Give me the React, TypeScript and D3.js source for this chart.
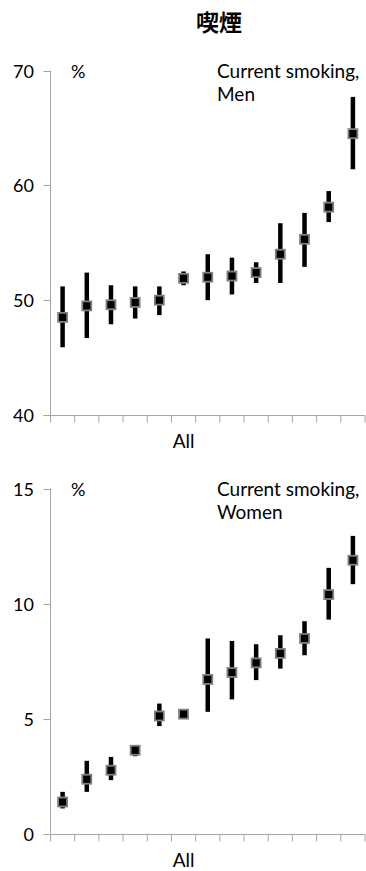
import React, { useEffect, useRef } from 'react';
import * as d3 from 'd3';

// 13 groups, only the "All" group carries a label
const categories = ['', '', '', '', '', 'All', '', '', '', '', '', '', ''];

const menValues = [48.5, 49.5, 49.6, 49.8, 50.0, 51.9, 52.0, 52.1, 52.4, 54.0, 55.3, 58.1, 64.5];
const menLow = [45.9, 46.7, 47.9, 48.4, 48.7, 51.3, 50.0, 50.5, 51.5, 51.5, 52.9, 56.8, 61.4];
const menHigh = [51.2, 52.4, 51.3, 51.2, 51.2, 52.5, 54.0, 53.7, 53.3, 56.7, 57.6, 59.5, 67.7];

const womenValues = [1.37, 2.36, 2.75, 3.62, 5.11, 5.19, 6.7, 7.0, 7.42, 7.83, 8.48, 10.39, 11.88];
const womenLow = [1.09, 1.81, 2.32, 3.36, 4.67, 5.1, 5.29, 5.83, 6.67, 7.17, 7.75, 9.3, 10.84];
const womenHigh = [1.81, 3.16, 3.33, 3.8, 5.65, 5.3, 8.48, 8.37, 8.23, 8.62, 9.23, 11.55, 12.94];

const menTicks = [40, 50, 60, 70];
const womenTicks = [0, 5, 10, 15];

const font = 'Lato, "Open Sans", sans-serif';

function drawPanel(svg, opts) {
  const { top, bottom, domain, ticks, values, low, high, title } = opts;
  const left = 50.5;
  const right = 365;
  const axisColor = '#a6a6a6';

  const x = d3.scaleBand().domain(categories.map((_, i) => String(i))).range([left, right]);
  const y = d3.scaleLinear().domain(domain).range([bottom, top]);

  const g = svg.append('g');

  // y axis
  g.append('line')
    .attr('x1', left).attr('x2', left)
    .attr('y1', y(domain[0])).attr('y2', y(domain[1]))
    .attr('stroke', axisColor).attr('stroke-width', 1);
  ticks.forEach(t => {
    g.append('line')
      .attr('x1', left - 7).attr('x2', left)
      .attr('y1', Math.round(y(t)) + 0.5).attr('y2', Math.round(y(t)) + 0.5)
      .attr('stroke', axisColor);
    g.append('text')
      .attr('x', 34).attr('y', y(t) + 7)
      .attr('text-anchor', 'end')
      .style('font-family', font).style('font-size', '18px').style('fill', '#000')
      .text(t);
  });

  // x axis
  const y0 = Math.round(y(domain[0])) + 0.5;
  g.append('line')
    .attr('x1', left - 7).attr('x2', right)
    .attr('y1', y0).attr('y2', y0)
    .attr('stroke', axisColor);
  const bounds = categories.map((_, i) => x(String(i))).concat([right]);
  bounds.forEach(b => {
    g.append('line')
      .attr('x1', b).attr('x2', b)
      .attr('y1', y0).attr('y2', y0 + 7)
      .attr('stroke', axisColor);
  });
  categories.forEach((c, i) => {
    if (!c) return;
    g.append('text')
      .attr('x', x(String(i)) + x.bandwidth() / 2)
      .attr('y', y0 + 32)
      .attr('text-anchor', 'middle')
      .style('font-family', font).style('font-size', '19px')
      .text(c);
  });

  // labels
  g.append('text')
    .attr('x', 71).attr('y', y(domain[1]) + 7.5)
    .style('font-family', font).style('font-size', '18px')
    .text('%');
  title.forEach((line, i) => {
    g.append('text')
      .attr('x', 217).attr('y', y(domain[1]) + 7 + i * 23.5)
      .style('font-family', font).style('font-size', '19px')
      .text(line);
  });

  // error bars
  const cx = i => x(String(i)) + x.bandwidth() / 2;
  g.selectAll('.err')
    .data(values)
    .join('line')
    .attr('x1', (_, i) => cx(i)).attr('x2', (_, i) => cx(i))
    .attr('y1', (_, i) => y(low[i])).attr('y2', (_, i) => y(high[i]))
    .attr('stroke', '#000').attr('stroke-width', 4.5);

  // markers
  g.selectAll('.pt')
    .data(values)
    .join('rect')
    .attr('x', (_, i) => cx(i) - 4.5)
    .attr('y', d => y(d) - 4.5)
    .attr('width', 9).attr('height', 9)
    .attr('fill', '#000')
    .attr('stroke', '#808080').attr('stroke-width', 1.8);
}

export default function App() {
  const ref = useRef(null);

  useEffect(() => {
    const svg = d3.select(ref.current);
    svg.selectAll('*').remove();

    svg.append('text')
      .attr('x', 219).attr('y', 31)
      .attr('text-anchor', 'middle')
      .style('font-family', '"Noto Sans CJK JP", sans-serif')
      .style('font-size', '23px').style('font-weight', 'bold')
      .text('喫煙');

    drawPanel(svg, {
      top: 70.5, bottom: 415, domain: [40, 70], ticks: menTicks,
      values: menValues, low: menLow, high: menHigh,
      title: ['Current smoking,', 'Men'],
    });
    drawPanel(svg, {
      top: 488.5, bottom: 833.5, domain: [0, 15], ticks: womenTicks,
      values: womenValues, low: womenLow, high: womenHigh,
      title: ['Current smoking,', 'Women'],
    });
  }, []);

  return (
    <svg ref={ref} width={366} height={871}
      style={{ position: 'absolute', left: 0, top: 0, background: '#fff' }} />
  );
}
